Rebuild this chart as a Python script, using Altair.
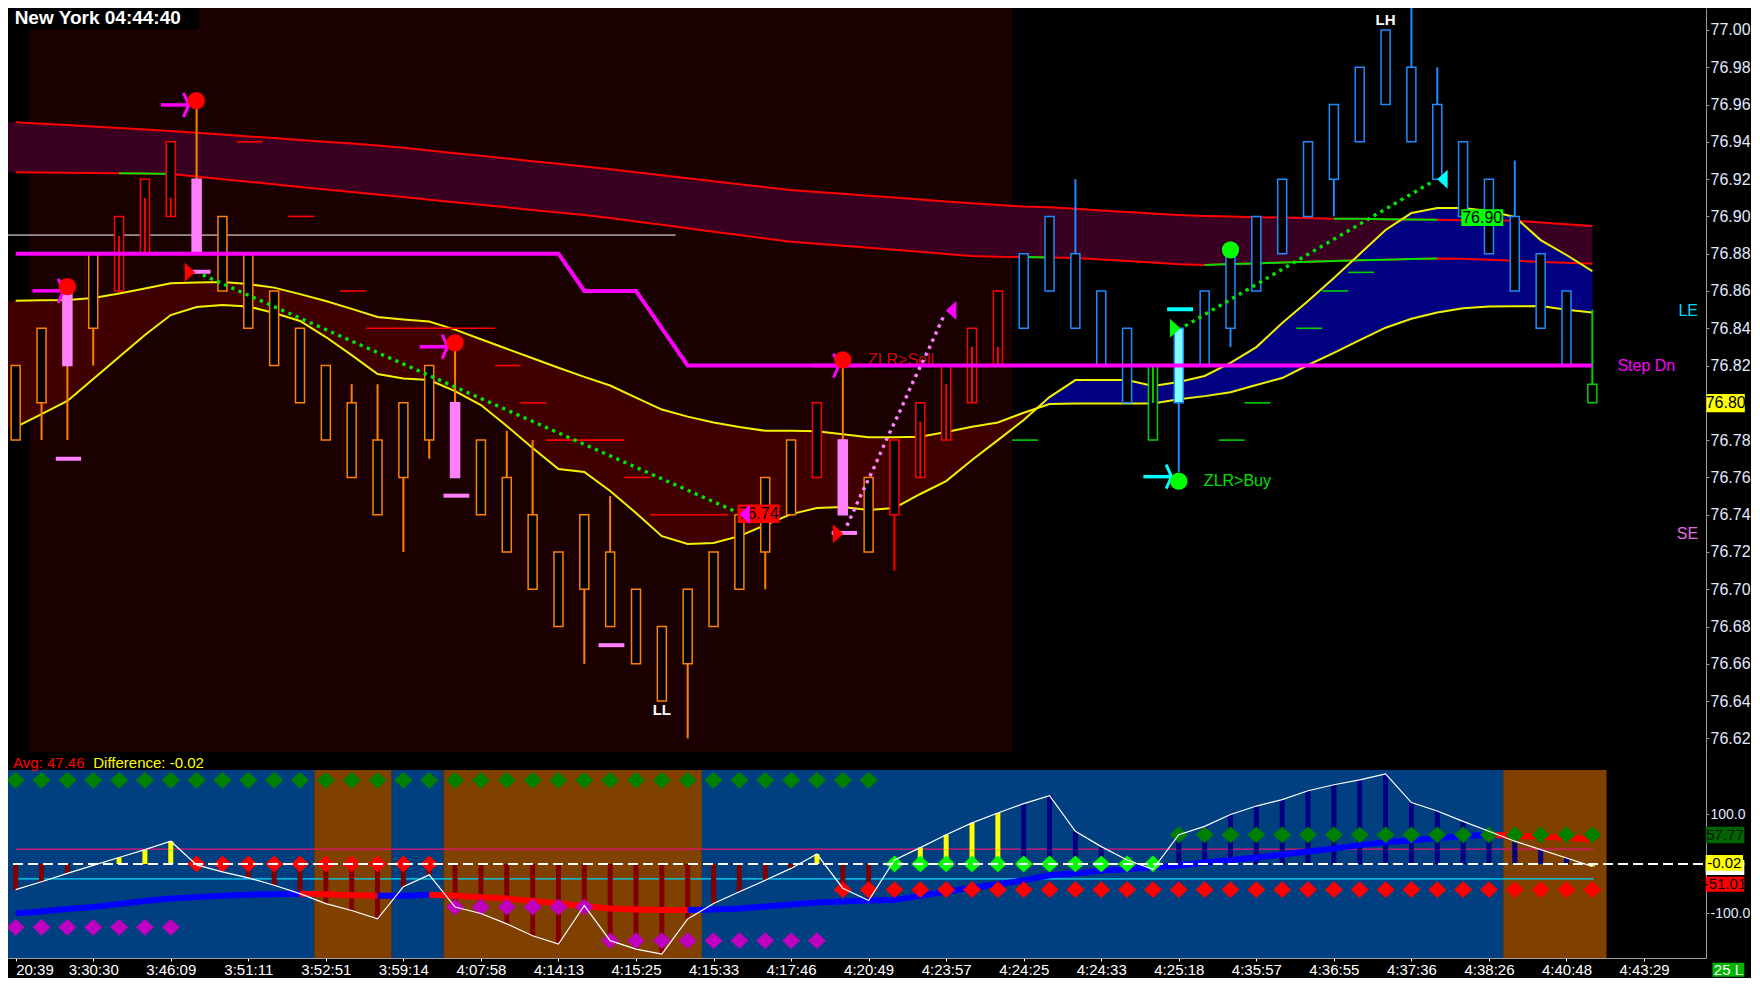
import altair as alt
import pandas as pd

# ---------------- layout (plot areas) ----------------
W = 1698
H_PRICE = 744
H_OSC = 206
X_MIN, X_MAX = -0.1038, 65.204
P_MIN, P_MAX = 76.6127, 77.0118
O_MIN, O_MAX = -190.0, 226.2
FONT = "Liberation Sans"

# ---------------- price pane data ----------------
bars = list(range(62))
body_top = [76.82, 76.84, 76.86, 76.88, 76.90, 76.92, 76.94, 76.92, 76.90, 76.88,
            76.86, 76.84, 76.82, 76.80, 76.78, 76.80, 76.82, 76.80, 76.78, 76.76,
            76.74, 76.72, 76.74, 76.72, 76.70, 76.68, 76.70, 76.72, 76.74, 76.76,
            76.78, 76.80, 76.78, 76.76, 76.78, 76.80, 76.82, 76.84, 76.86, 76.88,
            76.90, 76.88, 76.86, 76.84, 76.82, 76.84, 76.86, 76.88, 76.90, 76.92,
            76.94, 76.96, 76.98, 77.00, 76.98, 76.96, 76.94, 76.92, 76.90, 76.88,
            76.86, 76.81]
body_bot = [76.78, 76.80, 76.82, 76.84, 76.86, 76.88, 76.90, 76.88, 76.86, 76.84,
            76.82, 76.80, 76.78, 76.76, 76.74, 76.76, 76.78, 76.76, 76.74, 76.72,
            76.70, 76.68, 76.70, 76.68, 76.66, 76.64, 76.66, 76.68, 76.70, 76.72,
            76.74, 76.76, 76.74, 76.72, 76.74, 76.76, 76.78, 76.80, 76.82, 76.84,
            76.86, 76.84, 76.82, 76.80, 76.78, 76.80, 76.82, 76.84, 76.86, 76.88,
            76.90, 76.92, 76.94, 76.96, 76.94, 76.92, 76.90, 76.88, 76.86, 76.84,
            76.82, 76.80]
wick_hi = [76.82, 76.84, 76.86, 76.88, 76.90, 76.92, 76.94, 76.962, 76.90, 76.88,
           76.86, 76.84, 76.82, 76.81, 76.81, 76.80, 76.82, 76.832, 76.78, 76.785,
           76.78, 76.72, 76.74, 76.75, 76.70, 76.68, 76.70, 76.72, 76.74, 76.76,
           76.78, 76.80, 76.823, 76.76, 76.78, 76.80, 76.82, 76.84, 76.86, 76.88,
           76.90, 76.92, 76.86, 76.84, 76.82, 76.84, 76.86, 76.88, 76.90, 76.92,
           76.94, 76.96, 76.98, 77.00, 77.03, 76.98, 76.94, 76.92, 76.93, 76.88,
           76.86, 76.85]
wick_lo = [76.78, 76.78, 76.78, 76.82, 76.86, 76.88, 76.90, 76.88, 76.86, 76.84,
           76.82, 76.80, 76.78, 76.76, 76.74, 76.72, 76.77, 76.76, 76.74, 76.72,
           76.70, 76.68, 76.66, 76.68, 76.66, 76.64, 76.62, 76.68, 76.70, 76.70,
           76.74, 76.76, 76.74, 76.72, 76.71, 76.76, 76.78, 76.80, 76.82, 76.84,
           76.86, 76.84, 76.82, 76.80, 76.78, 76.763, 76.82, 76.83, 76.86, 76.88,
           76.90, 76.90, 76.94, 76.96, 76.94, 76.92, 76.90, 76.88, 76.86, 76.84,
           76.82, 76.80]
candle_kind = list("OOPORRRPOO" "OOOOOOOPOO" "OOOOOOOOOO" "ORPORRRRRB"
                   "BBBBGCBBBB" "BBBBBBBBBB" "BG")

inner_bars = [4, 5, 6, 35, 36, 37, 38, 44]
inner_top = [76.8895, 76.91, 76.91, 76.79, 76.81, 76.83, 76.83, 76.82]
inner_bot = [76.86, 76.88, 76.90, 76.76, 76.78, 76.80, 76.82, 76.80]
inner_kind = list("RRRRRRRG")

band_left_x = -0.41
band_red_upper = [76.9505, 76.9497, 76.9490, 76.9482, 76.9474, 76.9466, 76.9458, 76.9449, 76.9439, 76.9429,
                  76.9420, 76.9410, 76.9400, 76.9391, 76.9380, 76.9368, 76.9354, 76.9339, 76.9325, 76.9311,
                  76.9296, 76.9282, 76.9268, 76.9253, 76.9237, 76.9221, 76.9205, 76.9189, 76.9173, 76.9157,
                  76.9142, 76.9131, 76.9121, 76.9111, 76.9101, 76.9091, 76.9080, 76.9070, 76.9061, 76.9053,
                  76.9049, 76.9041, 76.9032, 76.9024, 76.9016, 76.9008, 76.9002, 76.8999, 76.8996, 76.8994,
                  76.8991, 76.8988, 76.8987, 76.8985, 76.8983, 76.8982, 76.8980, 76.8979, 76.8977, 76.8968,
                  76.8958, 76.8948]
band_red_lower = [76.9237, 76.9236, 76.9234, 76.9233, 76.9232, 76.9230, 76.9227, 76.9214, 76.9200, 76.9186,
                  76.9172, 76.9158, 76.9145, 76.9131, 76.9117, 76.9104, 76.9090, 76.9076, 76.9062, 76.9049,
                  76.9035, 76.9021, 76.9008, 76.8991, 76.8973, 76.8955, 76.8937, 76.8918, 76.8900, 76.8882,
                  76.8864, 76.8854, 76.8842, 76.8832, 76.8821, 76.8810, 76.8799, 76.8788, 76.8783, 76.8782,
                  76.8780, 76.8777, 76.8769, 76.8761, 76.8753, 76.8744, 76.8740, 76.8745, 76.8748, 76.8753,
                  76.8757, 76.8761, 76.8765, 76.8768, 76.8771, 76.8774, 76.8773, 76.8767, 76.8762, 76.8756,
                  76.8751, 76.8746]
ma_slow = [76.8548, 76.8550, 76.8551, 76.8562, 76.8587, 76.8613, 76.8641, 76.8646, 76.8648, 76.8637,
           76.8618, 76.8583, 76.8546, 76.8504, 76.8461, 76.8447, 76.8436, 76.8393, 76.8341, 76.8290,
           76.8239, 76.8188, 76.8139, 76.8093, 76.8028, 76.7964, 76.7926, 76.7894, 76.7870, 76.7850,
           76.7850, 76.7847, 76.7831, 76.7815, 76.7816, 76.7818, 76.7844, 76.7872, 76.7895, 76.7947,
           76.7994, 76.7997, 76.7997, 76.7997, 76.7997, 76.8019, 76.8036, 76.8057, 76.8096, 76.8133,
           76.8203, 76.8268, 76.8336, 76.8403, 76.8451, 76.8485, 76.8507, 76.8517, 76.8518, 76.8519,
           76.8499, 76.8484]
ma_fast = [76.7870, 76.7940, 76.8010, 76.8128, 76.8246, 76.8364, 76.8471, 76.8514, 76.8525, 76.8517,
           76.8482, 76.8439, 76.8353, 76.8256, 76.8155, 76.8130, 76.8122, 76.8063, 76.7988, 76.7876,
           76.7758, 76.7645, 76.7629, 76.7527, 76.7409, 76.7285, 76.7243, 76.7248, 76.7285, 76.7344,
           76.7403, 76.7436, 76.7441, 76.7425, 76.7436, 76.7511, 76.7580, 76.7693, 76.7800, 76.7908,
           76.8031, 76.8122, 76.8122, 76.8122, 76.8090, 76.8112, 76.8144, 76.8214, 76.8299, 76.8428,
           76.8546, 76.8670, 76.8798, 76.8927, 76.9018, 76.9045, 76.9045, 76.9029, 76.8997, 76.8873,
           76.8793, 76.8707]
green_runs_lower = [(4, 6), (39, 40), (46, 55)]
green_runs_upper = [(51, 55)]

session_first, session_last = 1, 38
white_level = 76.89
white_level_span = (-0.41, 25.53)

step_x = [0, 21, 22, 24, 26, 61]
step_p = [76.88, 76.88, 76.86, 76.86, 76.82, 76.82]

red_stop_x1 = [8.55, 10.55, 12.55, 13.57, 18.55, 19.53, 20.53, 23.55, 24.55]
red_stop_x2 = [9.55, 11.55, 13.55, 18.55, 19.53, 20.53, 23.55, 24.55, 27.55]
red_stop_p = [76.94, 76.90, 76.86, 76.84, 76.82, 76.80, 76.78, 76.76, 76.74]
green_stop_x1 = [38.55, 46.55, 47.55, 49.55, 50.55, 51.55]
green_stop_x2 = [39.55, 47.55, 48.55, 50.55, 51.55, 52.55]
green_stop_p = [76.78, 76.78, 76.80, 76.84, 76.86, 76.87]

signal_dash_x1 = [1.55, 6.55, 16.55, 22.55, 31.57, 44.55]
signal_dash_x2 = [2.53, 7.54, 17.55, 23.55, 32.55, 45.55]
signal_dash_p = [76.77, 76.8703, 76.7502, 76.670, 76.7302, 76.8502]
signal_dash_kind = list("PPPPPC")

trend_dn_x = [7.24, 27.9]
trend_dn_p = [76.8686, 76.7414]
trend_pink_x = [32.16, 32.67, 33.20, 33.70, 34.23, 34.73, 35.28, 35.66, 35.91]
trend_pink_p = [76.7341, 76.7496, 76.7650, 76.7806, 76.7961, 76.8117, 76.8274, 76.8391, 76.8467]
trend_up_x = [45.24, 54.86]
trend_up_p = [76.8412, 76.9190]

tri_right_x = [6.74, 31.82, 44.86]
tri_right_p = [76.8700, 76.7298, 76.8400]
tri_right_kind = list("RRG")
tri_left_x = [28.2, 36.19, 55.2]
tri_left_p = [76.7403, 76.8495, 76.9200]
tri_left_kind = list("MMC")

dot_x = [2.0, 6.99, 17.0, 32.0, 47.0, 45.0]
dot_p = [76.8623, 76.9621, 76.8322, 76.8230, 76.8821, 76.7580]
dot_kind = list("RRRRGG")

arrow_x1 = [0.65, 5.62, 15.63, 30.85, 43.63]
arrow_x2 = [1.80, 6.65, 16.66, 31.80, 44.67]
arrow_p = [76.8601, 76.9598, 76.8301, 76.8200, 76.7604]
arrow_kind = list("MMMMC")

tag_x1 = [27.93, 55.93]
tag_x2 = [29.55, 57.55]
tag_p1 = [76.7356, 76.8948]
tag_p2 = [76.7454, 76.9038]
tag_text = ["76.74", "76.90"]
tag_kind = list("RG")

sell_box = (32.93, 35.63, 76.8181, 76.8273)
sell_label = ("ZLR>Sell", 32.97, 76.8232)
buy_label = ("ZLR>Buy", 45.97, 76.7583)
swing_text = ["LH", "LL"]
swing_x = [53.0, 25.0]
swing_p = [77.0054, 76.6352]
side_text = ["LE", "SE"]
side_p = [76.8495, 76.7299]
side_x = 65.09
step_label = ("Step Dn", 61.97, 76.82)
title_text = "New York 04:44:40"
title_box = (band_left_x, 7.09, 77.0004, P_MAX)
title_p = 77.0064
last_price = ("76.80", 65.42, 66.90, 76.7949, 76.8047)

price_ticks = [76.62, 76.64, 76.66, 76.68, 76.70, 76.72, 76.74, 76.76, 76.78, 76.80,
               76.82, 76.84, 76.86, 76.88, 76.90, 76.92, 76.94, 76.96, 76.98, 77.00]

# ---------------- oscillator pane data ----------------
osc_session = list("bbbbbbbbbb" "bbrrrbbrrr" "rrrrrrrbbb" "bbbbbbbbbb"
                   "bbbbbbbbbb" "bbbbbbbbrr" "rr")
osc_hist = [-52, -36, -19, -3, 13, 29, 46, -2, -16, -28,
            -43, -60, -80, -94, -111, -46, -22, -87, -100, -121,
            -145, -162, -84, -155, -172, -182, -111, -80, -56, -33,
            -9, 20, -49, -74, 8, 33, 59, 83, 103, 122,
            138, 66, 35, 8, -11, 59, 76, 100, 117, 130,
            148, 160, 170, 182, 124, 107, 86, 66, 46, 29,
            12, -5]
osc_hist_kind = list("nnnnyyynnn" "nnnnnnnnnn" "nnnnnnnnnn" "nynnyyyyyb"
                     "bbbbnbbbbb" "bbbbbbbbbb" "by")
osc_ma = [-100, -96, -91, -87, -81, -75, -70, -67, -64, -62,
          -61, -60, -61, -63, -64, -64, -62, -64, -67, -70,
          -75, -80, -85, -90, -92, -93, -93, -92, -90, -86,
          -82, -78, -76, -74, -73, -64, -56, -48, -41, -33,
          -23, -19, -14, -10, -7, -3, 3, 8, 13, 19,
          25, 31, 38, 44, 48, 52, 56, 59, 57, 55,
          53, 50]
osc_levels = [30, -30]
osc_level_kind = list("PC")
osc_level_span = (0, 61.05)
diamond_first = [0, 7, 32, 34, 45, 0, 17, 23]
diamond_last = [33, 16, 61, 44, 61, 6, 22, 31]
diamond_value = [169, 0, -52, 0, 59, -128, -87, -155]
diamond_kind = list("DRRLDMMM")
osc_header = [("Avg: 47.46", -0.10, "#ff0000"), ("Difference: -0.02", 3.0, "#ffff00")]
osc_header_v = 203.4
osc_badges = [  # text, x1, x2, v1, v2, kind
    ("57.77", 65.385, 66.88, 41.8, 75.4, "g"),
    ("", 65.385, 66.88, -22.2, 8.1, "w"),
    ("-0.02", 65.385, 66.83, -13.5, 18.2, "y"),
    ("-51.01", 65.385, 66.88, -56.0, -25.7, "r"),
    ("25 L", 65.65, 66.88, -228.0, -199.4, "L"),
]
osc_axis_values = [100, -100]
tick_bars = [0, 3, 6, 9, 12, 15, 18, 21, 24, 27, 30, 33, 36, 39, 42, 45, 48, 51, 54, 57, 60, 63]
time_labels = ["20:39", "3:30:30", "3:46:09", "3:51:11", "3:52:51", "3:59:14", "4:07:58",
               "4:14:13", "4:15:25", "4:15:33", "4:17:46", "4:20:49", "4:23:57", "4:24:25",
               "4:24:33", "4:25:18", "4:35:57", "4:36:55", "4:37:36", "4:38:26", "4:40:48",
               "4:43:29"]

# ---------------- styles ----------------
STROKE = {"O": "#ff8000", "R": "#ff0000", "P": "#ff80ff", "B": "#1e8cff", "G": "#00d000", "C": "#1e8cff"}
FILL = {"O": "#000000", "R": "#000000", "P": "#ff80ff", "B": "#000000", "G": "#000000", "C": "#80ffff"}
WICK = {"O": "#ff8000", "R": "#ff0000", "P": "#ff8000", "B": "#1e8cff", "G": "#00d000", "C": "#1e8cff"}
MARK = {"R": "#ff0000", "G": "#00ff00", "M": "#ff00ff", "C": "#00ffff", "P": "#ff80ff"}
SESS = {"b": "#004080", "r": "#804000"}
HIST = {"n": "#800000", "y": "#ffff00", "b": "#000080"}
MACOL = {"b": "#0000ff", "r": "#ff0000"}
DIAM = {"D": "#008000", "R": "#ff0000", "L": "#00ff00", "M": "#c000c0"}
LEVEL = {"P": "#e8147a", "C": "#00d8ff"}
BADGE_BG = {"g": "#006400", "w": "#ffffff", "y": "#ffff00", "r": "#ff0000", "L": "#00b400"}
BADGE_FG = {"g": "#001800", "w": "#000000", "y": "#000000", "r": "#000000", "L": "#ffffff"}

TRI_R = "M-0.55,-1L0.55,0L-0.55,1Z"
TRI_L = "M0.55,-1L-0.55,0L0.55,1Z"
CHEVRON = "M-0.45,-1L0,0L-0.45,1"
DIAMOND = "M0,-0.93L1,0L0,0.93L-1,0Z"

X_SCALE = alt.Scale(domain=[X_MIN, X_MAX], nice=False, zero=False)
P_SCALE = alt.Scale(domain=[P_MIN, P_MAX], nice=False, zero=False)
O_SCALE = alt.Scale(domain=[O_MIN, O_MAX], nice=False, zero=False)

PRICE_AXIS = alt.Axis(orient="right", values=price_ticks,
                      labelExpr="abs(datum.value - %s) < 0.001 ? '' : format(datum.value, '.2f')" % last_price[0],
                      labelColor="#e2e9ff",
                      labelFont=FONT, labelFontSize=16, labelPadding=1, tickSize=3,
                      tickColor="#9a9a9a", domainColor="#9a9a9a", grid=False, title=None,
                      labelOverlap=False)
label_js = "[" + ",".join("'" + t + "'" for t in time_labels) + "]"
OSC_X_AXIS = alt.Axis(orient="bottom", values=tick_bars,
                      labelExpr=label_js + "[round(datum.value/3)]",
                      labelAlign={"condition": {"test": "datum.value < 1", "value": "left"},
                                  "value": "center"},
                      labelColor="#ffffff", labelFont=FONT, labelFontSize=15, labelPadding=1,
                      tickSize=3, tickColor="#ffffff", domainColor="#a0a0a0", grid=False,
                      title=None, labelFlush=False, labelOverlap=False)
OSC_Y_AXIS = alt.Axis(orient="right", values=osc_axis_values,
                      labelExpr="datum.value > 0 ? '100.0' : '-100.0'",
                      labelColor="#e2e9ff", labelFont=FONT, labelFontSize=14, labelPadding=1,
                      tickSize=3, tickColor="#9a9a9a", domainColor="#9a9a9a", grid=False,
                      title=None, labelOverlap=False)


def tx(f):
    return alt.X(f, type="quantitative", scale=X_SCALE, axis=None)


def ty(f):
    return alt.Y(f, type="quantitative", scale=P_SCALE, axis=PRICE_AXIS)


def ox(f):
    return alt.X(f, type="quantitative", scale=X_SCALE, axis=OSC_X_AXIS)


def oy(f):
    return alt.Y(f, type="quantitative", scale=O_SCALE, axis=OSC_Y_AXIS)


def raw(f):
    return alt.Color(f, type="nominal", scale=None)


def runs_of(codes):
    out = []
    s = 0
    for i in range(1, len(codes) + 1):
        if i == len(codes) or codes[i] != codes[s]:
            out.append((s, i - 1, codes[s]))
            s = i
    return out


# ================= price pane =================
top = []

sess_df = pd.DataFrame({"x": [session_first - 0.45], "x2": [session_last + 0.55],
                        "y": [P_MIN], "y2": [P_MAX]})
top.append(alt.Chart(sess_df).mark_rect(color="#1a0000", opacity=1, clip=True).encode(
    x=tx("x"), x2=alt.X2("x2"), y=ty("y"), y2=alt.Y2("y2")))

tb_df = pd.DataFrame({"x": [title_box[0]], "x2": [title_box[1]], "y": [title_box[2]], "y2": [title_box[3]]})
top.append(alt.Chart(tb_df).mark_rect(color="#000000", opacity=1, clip=True).encode(
    x=tx("x"), x2=alt.X2("x2"), y=ty("y"), y2=alt.Y2("y2")))

band_df = pd.DataFrame({"x": [band_left_x] + bars,
                        "u": [band_red_upper[0]] + band_red_upper,
                        "l": [band_red_lower[0]] + band_red_lower})
top.append(alt.Chart(band_df).mark_area(color="#3a0022", opacity=1, clip=True, orient="vertical").encode(
    x=tx("x"), y=ty("u"), y2=alt.Y2("l")))

# split the fill between the two yellow averages where they cross
ci = next(i for i in range(61) if ma_fast[i] < ma_slow[i] and ma_fast[i + 1] >= ma_slow[i + 1])
d0 = ma_fast[ci] - ma_slow[ci]
d1 = ma_fast[ci + 1] - ma_slow[ci + 1]
t = -d0 / (d1 - d0)
xc = ci + t
pc = ma_slow[ci] + t * (ma_slow[ci + 1] - ma_slow[ci])
red_fill = pd.DataFrame({"x": [band_left_x] + bars[:ci + 1] + [xc],
                         "a": [ma_slow[0]] + ma_slow[:ci + 1] + [pc],
                         "b": [ma_fast[0]] + ma_fast[:ci + 1] + [pc]})
blue_fill = pd.DataFrame({"x": [xc] + bars[ci + 1:],
                          "a": [pc] + ma_slow[ci + 1:],
                          "b": [pc] + ma_fast[ci + 1:]})
top.append(alt.Chart(red_fill).mark_area(color="#400000", opacity=1, clip=True, orient="vertical").encode(
    x=tx("x"), y=ty("a"), y2=alt.Y2("b")))
top.append(alt.Chart(blue_fill).mark_area(color="#000080", opacity=1, clip=True, orient="vertical").encode(
    x=tx("x"), y=ty("a"), y2=alt.Y2("b")))

line_df = pd.DataFrame({"x": bars, "ru": band_red_upper, "rl": band_red_lower,
                        "ys": ma_slow, "yf": ma_fast})
for f in ["ru", "rl"]:
    top.append(alt.Chart(line_df).mark_line(color="#ff0000", strokeWidth=2, clip=True).encode(
        x=tx("x"), y=ty(f)))
g_rows = []
for k, (a, b) in enumerate(green_runs_lower):
    for j in range(a, b + 1):
        g_rows.append({"x": j, "p": band_red_lower[j], "seg": "l%d" % k})
for k, (a, b) in enumerate(green_runs_upper):
    for j in range(a, b + 1):
        g_rows.append({"x": j, "p": band_red_upper[j], "seg": "u%d" % k})
top.append(alt.Chart(pd.DataFrame(g_rows)).mark_line(color="#00e000", strokeWidth=2, clip=True).encode(
    x=tx("x"), y=ty("p"), detail="seg:N"))
for f in ["ys", "yf"]:
    top.append(alt.Chart(line_df).mark_line(color="#f2f200", strokeWidth=2, clip=True).encode(
        x=tx("x"), y=ty(f)))

wl_df = pd.DataFrame({"x": [white_level_span[0]], "x2": [white_level_span[1]], "p": [white_level]})
top.append(alt.Chart(wl_df).mark_rule(color="#ffffff", strokeWidth=1, clip=True).encode(
    x=tx("x"), x2=alt.X2("x2"), y=ty("p")))

stops_df = pd.DataFrame({"x": red_stop_x1 + green_stop_x1, "x2": red_stop_x2 + green_stop_x2,
                         "p": red_stop_p + green_stop_p,
                         "c": ["#ff0000"] * len(red_stop_p) + ["#00d000"] * len(green_stop_p)})
top.append(alt.Chart(stops_df).mark_rule(strokeWidth=1.6, clip=True).encode(
    x=tx("x"), x2=alt.X2("x2"), y=ty("p"), color=raw("c")))

cdf = pd.DataFrame({"x": bars, "top": body_top, "bot": body_bot, "hi": wick_hi, "lo": wick_lo,
                    "kind": candle_kind})
cdf["stroke"] = cdf["kind"].map(STROKE)
cdf["fill"] = cdf["kind"].map(FILL)
cdf["wick"] = cdf["kind"].map(WICK)
top.append(alt.Chart(cdf).mark_rule(strokeWidth=2, clip=True).encode(
    x=tx("x"), y=ty("hi"), y2=alt.Y2("lo"), color=raw("wick")))
top.append(alt.Chart(cdf).mark_bar(width=9, strokeWidth=1.5, opacity=1, clip=True).encode(
    x=tx("x"), y=ty("top"), y2=alt.Y2("bot"),
    fill=alt.Fill("fill", type="nominal", scale=None),
    stroke=alt.Stroke("stroke", type="nominal", scale=None)))
idf = pd.DataFrame({"x": inner_bars, "t": inner_top, "b": inner_bot,
                    "c": [STROKE[k] for k in inner_kind]})
top.append(alt.Chart(idf).mark_rule(strokeWidth=2, clip=True).encode(
    x=tx("x"), y=ty("t"), y2=alt.Y2("b"), color=raw("c")))

sb_df = pd.DataFrame({"x": [sell_box[0]], "x2": [sell_box[1]], "y": [sell_box[2]], "y2": [sell_box[3]]})
top.append(alt.Chart(sb_df).mark_rect(color="#000000", opacity=1, clip=True).encode(
    x=tx("x"), x2=alt.X2("x2"), y=ty("y"), y2=alt.Y2("y2")))
sl_df = pd.DataFrame({"t": [sell_label[0]], "x": [sell_label[1]], "p": [sell_label[2]]})
top.append(alt.Chart(sl_df).mark_text(font=FONT, fontSize=16, color="#e00000", align="left",
                                      baseline="middle", clip=True).encode(
    x=tx("x"), y=ty("p"), text="t:N"))

step_df = pd.DataFrame({"x": step_x, "p": step_p})
top.append(alt.Chart(step_df).mark_line(color="#ff00ff", strokeWidth=4, clip=True).encode(
    x=tx("x"), y=ty("p")))

sd_df = pd.DataFrame({"x": signal_dash_x1, "x2": signal_dash_x2, "p": signal_dash_p,
                      "c": [MARK[k] for k in signal_dash_kind]})
top.append(alt.Chart(sd_df).mark_rule(strokeWidth=4, strokeCap="butt", clip=True).encode(
    x=tx("x"), x2=alt.X2("x2"), y=ty("p"), color=raw("c")))

for xs_, ps_, col in [(trend_dn_x, trend_dn_p, "#00e600"), (trend_pink_x, trend_pink_p, "#ff80ff"),
                      (trend_up_x, trend_up_p, "#00e600")]:
    top.append(alt.Chart(pd.DataFrame({"x": xs_, "p": ps_})).mark_line(
        color=col, strokeWidth=3.4, strokeDash=[3.3, 4.5], clip=True).encode(x=tx("x"), y=ty("p")))

tag_df = pd.DataFrame({"x": tag_x1, "x2": tag_x2, "y": tag_p1, "y2": tag_p2, "t": tag_text,
                       "tx": [(a + b) / 2 for a, b in zip(tag_x1, tag_x2)],
                       "ty": [(a + b) / 2 for a, b in zip(tag_p1, tag_p2)],
                       "c": [MARK[k] for k in tag_kind]})
top.append(alt.Chart(tag_df).mark_rect(opacity=1, clip=True).encode(
    x=tx("x"), x2=alt.X2("x2"), y=ty("y"), y2=alt.Y2("y2"), color=raw("c")))
top.append(alt.Chart(tag_df).mark_text(font=FONT, fontSize=16, color="#000000", clip=True).encode(
    x=tx("tx"), y=ty("ty"), text="t:N"))

for xs_, ps_, ks_, shp in [(tri_right_x, tri_right_p, tri_right_kind, TRI_R),
                           (tri_left_x, tri_left_p, tri_left_kind, TRI_L)]:
    df = pd.DataFrame({"x": xs_, "p": ps_, "c": [MARK[k] for k in ks_]})
    top.append(alt.Chart(df).mark_point(shape=shp, filled=True, size=361, opacity=1,
                                        strokeWidth=0, clip=True).encode(
        x=tx("x"), y=ty("p"), color=raw("c")))

ar_df = pd.DataFrame({"x": arrow_x1, "x2": arrow_x2, "p": arrow_p,
                      "h": [v + 0.05 for v in arrow_x2], "c": [MARK[k] for k in arrow_kind]})
top.append(alt.Chart(ar_df).mark_rule(strokeWidth=3.5, clip=True).encode(
    x=tx("x"), x2=alt.X2("x2"), y=ty("p"), color=raw("c")))
top.append(alt.Chart(ar_df).mark_point(shape=CHEVRON, filled=False, size=576, strokeWidth=3,
                                       opacity=1, clip=True).encode(
    x=tx("h"), y=ty("p"), color=raw("c")))

dot_df = pd.DataFrame({"x": dot_x, "p": dot_p, "c": [MARK[k] for k in dot_kind]})
top.append(alt.Chart(dot_df).mark_circle(size=300, opacity=1, clip=True).encode(
    x=tx("x"), y=ty("p"), color=raw("c")))

sw_df = pd.DataFrame({"t": swing_text, "x": swing_x, "p": swing_p})
top.append(alt.Chart(sw_df).mark_text(font=FONT, fontSize=15, fontWeight="bold", color="#ffffff",
                                      clip=True).encode(x=tx("x"), y=ty("p"), text="t:N"))
bl_df = pd.DataFrame({"t": [buy_label[0]], "x": [buy_label[1]], "p": [buy_label[2]]})
top.append(alt.Chart(bl_df).mark_text(font=FONT, fontSize=16, color="#00e000", align="left",
                                      clip=True).encode(x=tx("x"), y=ty("p"), text="t:N"))
side_df = pd.DataFrame({"t": side_text, "x": [side_x, side_x], "p": side_p,
                        "c": ["#00d8f8", "#e070e0"]})
top.append(alt.Chart(side_df).mark_text(font=FONT, fontSize=16, align="right", clip=True).encode(
    x=tx("x"), y=ty("p"), text="t:N", color=raw("c")))
stl_df = pd.DataFrame({"t": [step_label[0]], "x": [step_label[1]], "p": [step_label[2]]})
top.append(alt.Chart(stl_df).mark_text(font=FONT, fontSize=16, color="#ff00ff", align="left",
                                       clip=True).encode(x=tx("x"), y=ty("p"), text="t:N"))
tt_df = pd.DataFrame({"t": [title_text], "x": [-0.04], "p": [title_p]})
top.append(alt.Chart(tt_df).mark_text(font=FONT, fontSize=19, fontWeight="bold", color="#ffffff",
                                      align="left", baseline="middle").encode(
    x=tx("x"), y=ty("p"), text="t:N"))

lp_df = pd.DataFrame({"t": [last_price[0]], "x": [last_price[1]], "x2": [last_price[2]],
                      "y": [last_price[3]], "y2": [last_price[4]],
                      "tx": [(last_price[1] + last_price[2]) / 2],
                      "ty": [(last_price[3] + last_price[4]) / 2]})
top.append(alt.Chart(lp_df).mark_rect(color="#ffff00", opacity=1).encode(
    x=tx("x"), x2=alt.X2("x2"), y=ty("y"), y2=alt.Y2("y2")))
top.append(alt.Chart(lp_df).mark_text(font=FONT, fontSize=16, color="#000000").encode(
    x=tx("tx"), y=ty("ty"), text="t:N"))

price_pane = alt.layer(*top).properties(width=W, height=H_PRICE)

# ================= oscillator pane =================
bot = []
bg_rows = [{"x": a - 0.45, "x2": b + 0.55, "lo": -190, "hi": 190, "c": SESS[c]}
           for a, b, c in runs_of(osc_session)]
bot.append(alt.Chart(pd.DataFrame(bg_rows)).mark_rect(opacity=1, clip=True).encode(
    x=ox("x"), x2=alt.X2("x2"), y=oy("lo"), y2=alt.Y2("hi"), color=raw("c")))

lv_df = pd.DataFrame({"x": [osc_level_span[0]] * 2, "x2": [osc_level_span[1]] * 2, "v": osc_levels,
                      "c": [LEVEL[k] for k in osc_level_kind]})
bot.append(alt.Chart(lv_df).mark_rule(strokeWidth=1.2, clip=True).encode(
    x=ox("x"), x2=alt.X2("x2"), y=oy("v"), color=raw("c")))

h_df = pd.DataFrame({"x": bars, "v": osc_hist, "z": [0] * 62, "c": [HIST[k] for k in osc_hist_kind]})
bot.append(alt.Chart(h_df).mark_bar(width=5, opacity=1, clip=True).encode(
    x=ox("x"), y=oy("v"), y2=alt.Y2("z"), color=raw("c")))

# thick average, coloured by session
ma_rows = []
for k, (a, b, c) in enumerate(runs_of(osc_session)):
    for j in range(max(a - 1, 0), b + 1):
        ma_rows.append({"x": j, "v": osc_ma[j], "seg": k, "c": MACOL[c]})
bot.append(alt.Chart(pd.DataFrame(ma_rows)).mark_line(strokeWidth=6, clip=True).encode(
    x=ox("x"), y=oy("v"), detail="seg:N", color=raw("c")))

d_rows = []
for a, b, v, k in zip(diamond_first, diamond_last, diamond_value, diamond_kind):
    for j in range(a, b + 1):
        d_rows.append({"x": j, "v": v, "c": DIAM[k]})
bot.append(alt.Chart(pd.DataFrame(d_rows)).mark_point(shape=DIAMOND, filled=True, size=324,
                                                      opacity=1, strokeWidth=0, clip=True).encode(
    x=ox("x"), y=oy("v"), color=raw("c")))

bot.append(alt.Chart(h_df).mark_line(color="#ffffff", strokeWidth=1.2, clip=True).encode(
    x=ox("x"), y=oy("v")))

zl_df = pd.DataFrame({"x": [X_MIN], "x2": [66.88], "v": [0]})
bot.append(alt.Chart(zl_df).mark_rule(color="#ffffff", strokeWidth=2, strokeDash=[10, 5]).encode(
    x=ox("x"), x2=alt.X2("x2"), y=oy("v")))

hd_df = pd.DataFrame({"t": [h[0] for h in osc_header], "x": [h[1] for h in osc_header],
                      "c": [h[2] for h in osc_header], "v": [osc_header_v] * len(osc_header)})
bot.append(alt.Chart(hd_df).mark_text(font=FONT, fontSize=15, align="left", clip=True).encode(
    x=ox("x"), y=oy("v"), text="t:N", color=raw("c")))

bd_df = pd.DataFrame({"t": [b[0] for b in osc_badges], "x": [b[1] for b in osc_badges],
                      "x2": [b[2] for b in osc_badges], "y": [b[3] for b in osc_badges],
                      "y2": [b[4] for b in osc_badges],
                      "tx": [(b[1] + b[2]) / 2 for b in osc_badges],
                      "ty": [(b[3] + b[4]) / 2 for b in osc_badges],
                      "bg": [BADGE_BG[b[5]] for b in osc_badges],
                      "fg": [BADGE_FG[b[5]] for b in osc_badges]})
for idx in range(len(osc_badges)):
    one = bd_df.iloc[[idx]]
    bot.append(alt.Chart(one).mark_rect(opacity=1).encode(
        x=ox("x"), x2=alt.X2("x2"), y=oy("y"), y2=alt.Y2("y2"), color=raw("bg")))
    if osc_badges[idx][0]:
        bot.append(alt.Chart(one).mark_text(font=FONT, fontSize=15).encode(
            x=ox("tx"), y=oy("ty"), text="t:N", color=raw("fg")))

osc_pane = alt.layer(*bot).properties(width=W, height=H_OSC)

chart = alt.vconcat(price_pane, osc_pane, spacing=0).properties(
    background="#000000", padding=0).configure_view(strokeWidth=0)

chart.save("out.html", embed_options={"renderer": "svg", "actions": False})
